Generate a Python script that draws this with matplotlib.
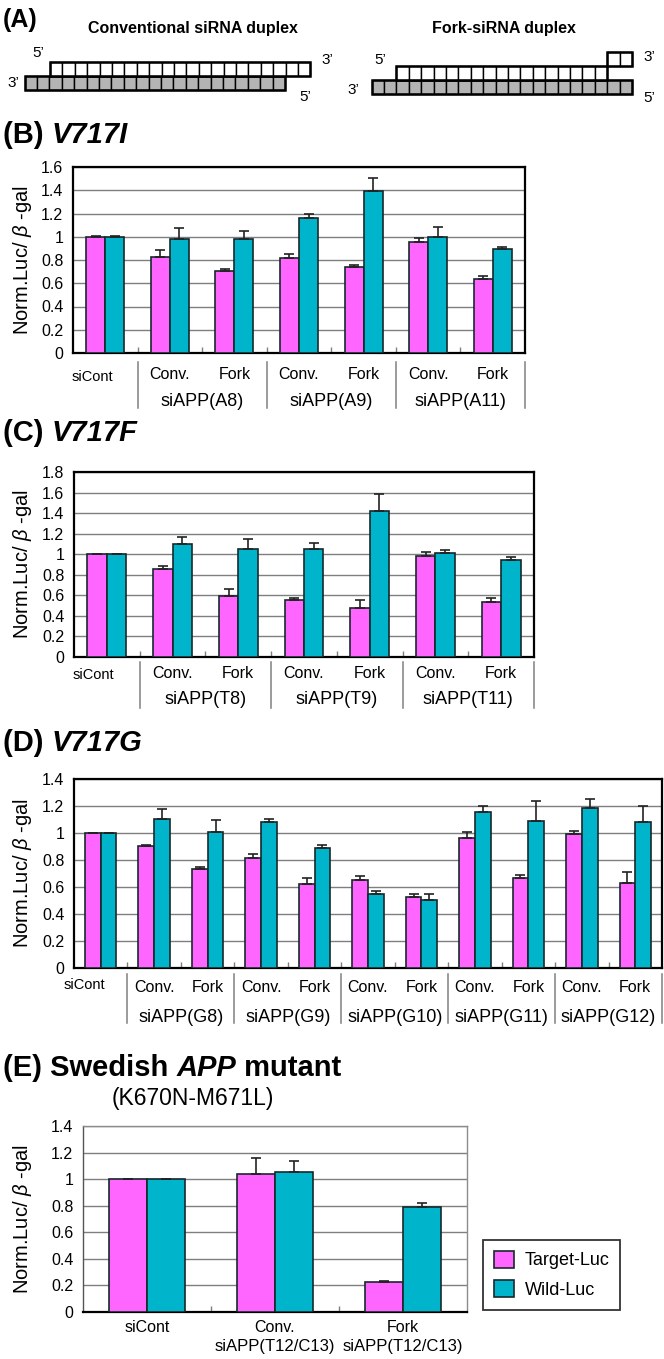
import numpy as np
import matplotlib
matplotlib.use('Agg')
import matplotlib.pyplot as plt
from matplotlib.patches import Rectangle, Patch

plt.rcParams['font.family'] = ['Liberation Sans', 'DejaVu Sans']
plt.rcParams['mathtext.fontset'] = 'custom'
plt.rcParams['mathtext.rm'] = 'Liberation Sans'
plt.rcParams['mathtext.it'] = 'Liberation Sans:italic'
plt.rcParams['mathtext.bf'] = 'Liberation Sans:bold'

# ---------------- data ----------------
series_names = ['Target-Luc', 'Wild-Luc']
control_label = 'siCont'
sub_labels = ['Conv.', 'Fork']

# (B) V717I
b_groups = ['siAPP(A8)', 'siAPP(A9)', 'siAPP(A11)']
b_target = [1.00, 0.83, 0.705, 0.82, 0.737, 0.955, 0.637]
b_target_err = [0.005, 0.06, 0.016, 0.03, 0.017, 0.03, 0.025]
b_wild = [1.00, 0.983, 0.983, 1.16, 1.39, 1.00, 0.895]
b_wild_err = [0.004, 0.095, 0.07, 0.035, 0.115, 0.086, 0.02]
b_yticks = [0, 0.2, 0.4, 0.6, 0.8, 1.0, 1.2, 1.4, 1.6]

# (C) V717F
c_groups = ['siAPP(T8)', 'siAPP(T9)', 'siAPP(T11)']
c_target = [1.00, 0.855, 0.598, 0.556, 0.481, 0.985, 0.539]
c_target_err = [0.004, 0.032, 0.064, 0.02, 0.075, 0.035, 0.033]
c_wild = [1.00, 1.096, 1.047, 1.047, 1.419, 1.011, 0.94]
c_wild_err = [0.004, 0.073, 0.097, 0.065, 0.17, 0.033, 0.033]
c_yticks = [0, 0.2, 0.4, 0.6, 0.8, 1.0, 1.2, 1.4, 1.6, 1.8]

# (D) V717G
d_groups = ['siAPP(G8)', 'siAPP(G9)', 'siAPP(G10)', 'siAPP(G11)', 'siAPP(G12)']
d_target = [1.00, 0.905, 0.735, 0.815, 0.622, 0.652, 0.523, 0.963, 0.67, 0.993, 0.632]
d_target_err = [0.003, 0.008, 0.012, 0.032, 0.047, 0.03, 0.026, 0.044, 0.018, 0.02, 0.077]
d_wild = [1.00, 1.103, 1.008, 1.08, 0.89, 0.547, 0.507, 1.155, 1.092, 1.185, 1.082]
d_wild_err = [0.003, 0.076, 0.085, 0.022, 0.02, 0.027, 0.041, 0.046, 0.146, 0.07, 0.12]
d_yticks = [0, 0.2, 0.4, 0.6, 0.8, 1.0, 1.2, 1.4]

# (E) Swedish APP mutant
e_labels_top = ['siCont', 'Conv.', 'Fork']
e_labels_bottom = ['', 'siAPP(T12/C13)', 'siAPP(T12/C13)']
e_target = [1.00, 1.037, 0.224]
e_target_err = [0.0, 0.12, 0.011]
e_wild = [1.00, 1.055, 0.787]
e_wild_err = [0.0, 0.078, 0.034]
e_yticks = [0, 0.2, 0.4, 0.6, 0.8, 1.0, 1.2, 1.4]

# ---------------- style ----------------
PINK = '#FF66FF'
TEAL = '#00B4CC'
EDGE = '#16292B'
GRID = '#7F7F7F'
W, H = 664, 1359
fig = plt.figure(figsize=(W / 100, H / 100), dpi=100)


def px_rect(x0, y0, x1, y1):
    return [x0 / W, 1 - y1 / H, (x1 - x0) / W, (y1 - y0) / H]


def fmt(v):
    return ('%.1f' % v).rstrip('0').rstrip('.') if v != 0 else '0'


def bar_panel(box, target, terr, wild, werr, yticks, framed=True):
    ax = fig.add_axes(px_rect(*box))
    n = len(target)
    x = np.arange(n)
    bw, off = 0.295, 0.1475
    ax.bar(x - off, target, bw, color=PINK, edgecolor=EDGE, linewidth=1.2, zorder=3)
    ax.bar(x + off, wild, bw, color=TEAL, edgecolor=EDGE, linewidth=1.2, zorder=3)
    z = np.zeros(n)
    ax.errorbar(x - off, target, yerr=[z, terr], fmt='none', ecolor='#222222',
                elinewidth=1.2, capsize=3.5, capthick=1.2, zorder=4)
    ax.errorbar(x + off, wild, yerr=[z, werr], fmt='none', ecolor='#222222',
                elinewidth=1.2, capsize=3.5, capthick=1.2, zorder=4)
    ax.set_xlim(-0.5, n - 0.5)
    ax.set_ylim(yticks[0], yticks[-1])
    ax.set_yticks(yticks)
    ax.set_yticklabels([fmt(v) for v in yticks], fontsize=11.5)
    ax.yaxis.grid(True, color=GRID, linewidth=1.0)
    ax.set_axisbelow(True)
    ax.set_xticks(np.arange(n - 1) + 0.5)
    ax.set_xticklabels([])
    ax.tick_params(axis='x', direction='in', length=4, color=GRID, width=1)
    ax.tick_params(axis='y', length=0, pad=7)
    if framed:
        for s in ax.spines.values():
            s.set_color('black')
            s.set_linewidth(1.6)
    else:
        for k in ['top', 'right']:
            ax.spines[k].set_color('#8C8C8C')
            ax.spines[k].set_linewidth(1.0)
        ax.spines['left'].set_color('#555555')
        ax.spines['left'].set_linewidth(1.0)
        ax.spines['bottom'].set_color('black')
        ax.spines['bottom'].set_linewidth(1.6)
    cy = (box[1] + box[3]) / 2
    fig.text(23 / W, 1 - cy / H, 'Norm.Luc/ $\\it{\\beta}$ -gal', rotation=90,
             ha='center', va='center', fontsize=14.5)
    return ax


def table_labels(ax, box, groups, cont_x, cont_dy, row1_dy, row2_dy, sep_dy):
    hpx = box[3] - box[1]
    tr = ax.get_xaxis_transform()
    f = lambda d: -d / hpx
    ax.text(cont_x, f(cont_dy), control_label, transform=tr, ha='center', va='center', fontsize=10.5)
    for k, g in enumerate(groups):
        c1, c2 = 2 * k + 1, 2 * k + 2
        ax.text(c1, f(row1_dy), sub_labels[0], transform=tr, ha='center', va='center', fontsize=11.5)
        ax.text(c2, f(row1_dy), sub_labels[1], transform=tr, ha='center', va='center', fontsize=11.5)
        ax.text(c1 + 0.5, f(row2_dy), g, transform=tr, ha='center', va='center', fontsize=13)
    for k in range(len(groups) + 1):
        b = 2 * k + 0.5
        ax.plot([b, b], [f(sep_dy[0]), f(sep_dy[1])], transform=tr, clip_on=False,
                color='#808080', linewidth=1.1)


def title(x, y, parts, size):
    t = fig.text(x / W, 1 - y / H, parts[0][0], fontsize=size, fontweight='bold',
                 style=parts[0][1], va='center', ha='left')
    prev = t
    for txt, st in parts[1:]:
        prev = axA.annotate(txt, xy=(1, 0), xycoords=prev, va='bottom', ha='left',
                            fontsize=size, fontweight='bold', style=st, annotation_clip=False)
    return t


# ---------------- (A) schematic ----------------
axA = fig.add_axes([0, 1 - 110 / H, 1, 110 / H])
axA.set_xlim(0, W)
axA.set_ylim(110, 0)
axA.axis('off')
bw_px, bh_px = 12.4, 14
strands = [  # (n boxes, left, top, face)
    (21, 24.6, 76, '#B4B4B4'),
    (21, 50.0, 62, 'white'),
    (21, 371.6, 80, '#B4B4B4'),
    (17, 371.6 + 2 * 12.4, 66, 'white'),
    (2, 371.6 + 19 * 12.4, 52, 'white'),
]
for n, x0, y0, fc in strands:
    for i in range(n):
        axA.add_patch(Rectangle((x0 + i * bw_px, y0), bw_px, bh_px, facecolor=fc,
                                edgecolor='black', linewidth=1.0))
    axA.add_patch(Rectangle((x0, y0), n * bw_px, bh_px, facecolor='none',
                            edgecolor='black', linewidth=1.8))
fig.text(3 / W, 1 - 20 / H, '(A)', fontsize=18, fontweight='bold', va='center')
axA.text(193, 28, 'Conventional siRNA duplex', ha='center', va='center', fontsize=11.5, fontweight='bold')
axA.text(504, 28, 'Fork-siRNA duplex', ha='center', va='center', fontsize=11.5, fontweight='bold')
for (x, y, s) in [(38, 53, '5\u2019'), (327, 60, '3\u2019'), (13, 83, '3\u2019'), (305, 97, '5\u2019'),
                  (380, 60, '5\u2019'), (649, 57, '3\u2019'), (353, 90, '3\u2019'), (649, 98, '5\u2019')]:
    axA.text(x, y, s, ha='center', va='center', fontsize=11)

# ---------------- (B) ----------------
boxB = (73, 167, 525, 353)
axB = bar_panel(boxB, b_target, b_target_err, b_wild, b_wild_err, b_yticks)
table_labels(axB, boxB, b_groups, -0.2, 24, 21, 48, (9, 55))
title(3, 135, [('(B) ', 'normal'), ('V717I', 'italic')], 21)

# ---------------- (C) ----------------
boxC = (74, 472, 534, 657)
axC = bar_panel(boxC, c_target, c_target_err, c_wild, c_wild_err, c_yticks)
table_labels(axC, boxC, c_groups, -0.2, 18, 16, 43, (5, 51))
title(3, 433, [('(C) ', 'normal'), ('V717F', 'italic')], 21)

# ---------------- (D) ----------------
boxD = (74, 779, 662, 968)
axD = bar_panel(boxD, d_target, d_target_err, d_wild, d_wild_err, d_yticks)
table_labels(axD, boxD, d_groups, -0.3, 17, 19, 50, (6, 55))
title(3, 743, [('(D) ', 'normal'), ('V717G', 'italic')], 21)

# ---------------- (E) ----------------
boxE = (83, 1126, 467, 1312)
axE = bar_panel(boxE, e_target, e_target_err, e_wild, e_wild_err, e_yticks, framed=False)
hE = boxE[3] - boxE[1]
trE = axE.get_xaxis_transform()
for i, (a, b) in enumerate(zip(e_labels_top, e_labels_bottom)):
    axE.text(i, -16 / hE, a, transform=trE, ha='center', va='center', fontsize=11.5)
    if b:
        axE.text(i, -35 / hE, b, transform=trE, ha='center', va='center', fontsize=12)
title(3, 1068, [('(E) Swedish ', 'normal'), ('APP', 'italic'), (' mutant', 'normal')], 21)
fig.text(193 / W, 1 - 1098 / H, '(K670N-M671L)', ha='center', va='center', fontsize=16.5)

handles = [Patch(facecolor=PINK, edgecolor=EDGE, linewidth=1.2),
           Patch(facecolor=TEAL, edgecolor=EDGE, linewidth=1.2)]
leg = fig.legend(handles, series_names, loc='upper left',
                 bbox_to_anchor=(483 / W, 1 - 1240 / H), fontsize=13,
                 frameon=True, fancybox=False, handlelength=1.1, handleheight=1.05,
                 labelspacing=0.6, borderpad=0.6, handletextpad=0.6, borderaxespad=0)
leg.get_frame().set_edgecolor('black')
leg.get_frame().set_linewidth(1.3)

fig.savefig('out.png', dpi=100)
